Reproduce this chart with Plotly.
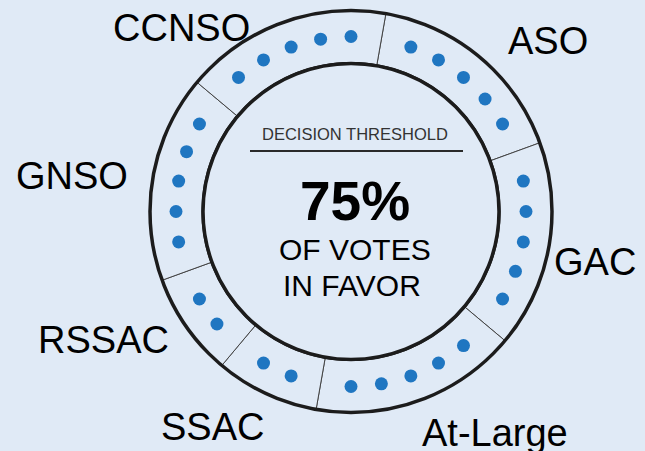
import numpy as np
import plotly.graph_objects as go

# ---- data ----
groups = ["ASO", "GAC", "At-Large", "SSAC", "RSSAC", "GNSO", "CCNSO"]
votes = [5, 5, 5, 2, 2, 5, 5]
span_deg = [60, 60, 60, 30, 30, 60, 60]   # angular size of each segment
threshold_pct = 75
center_title = "DECISION THRESHOLD"
center_sub = ["OF VOTES", "IN FAVOR"]

# ---- styling ----
BG = "#E0EAF6"
DOT = "#1F76C1"
INK = "#1c1c1c"
FONT = "Liberation Sans, Arial, Helvetica, sans-serif"

W, H = 645, 451
cx, cy, R_out, R_in = 351, 211.5, 201, 148
hole = R_in / R_out

start = 10
dot_step = 10
dot_r = (175 - R_in) / (R_out - R_in)

widths = np.array(span_deg, dtype=float)
starts = start + np.concatenate([[0], np.cumsum(widths)[:-1]])
centers = starts + widths / 2

fig = go.Figure()

# ring segments
fig.add_trace(go.Barpolar(
    theta=centers, r=[1] * len(groups), width=widths,
    marker=dict(color=BG, line=dict(color="#444444", width=1)),
    hoverinfo="text", text=groups, showlegend=False,
))

# inner circle
ring_theta = np.linspace(0, 360, 361)
fig.add_trace(go.Scatterpolar(
    theta=ring_theta, r=[0] * len(ring_theta), mode="lines",
    line=dict(color=INK, width=3.2), hoverinfo="skip", showlegend=False,
))

# vote dots
dt, dr, dtx = [], [], []
for g, n, c in zip(groups, votes, centers):
    for k in range(n):
        dt.append(c + (k - (n - 1) / 2) * dot_step)
        dr.append(dot_r)
        dtx.append(g)
fig.add_trace(go.Scatterpolar(
    theta=dt, r=dr, mode="markers", text=dtx,
    marker=dict(color=DOT, size=13, line=dict(width=0)),
    showlegend=False,
))

fig.update_layout(
    width=W, height=H,
    margin=dict(l=0, r=0, t=0, b=0),
    paper_bgcolor=BG, plot_bgcolor=BG,
    polar=dict(
        domain=dict(x=[(cx - R_out) / W, (cx + R_out) / W],
                    y=[(H - cy - R_out) / H, (H - cy + R_out) / H]),
        hole=hole,
        bgcolor=BG,
        barmode="overlay",
        radialaxis=dict(visible=False, range=[0, 1]),
        angularaxis=dict(direction="clockwise", rotation=90,
                         showticklabels=False, ticks="", showgrid=False,
                         showline=True, linecolor=INK, linewidth=3.5),
    ),
)

def px(x):
    return x / W

def py(y):
    return 1 - y / H

label_pos = {
    "ASO": (548, 41),
    "GAC": (595, 262),
    "At-Large": (495, 433),
    "SSAC": (212, 427),
    "RSSAC": (103, 340),
    "GNSO": (72, 176),
    "CCNSO": (181, 28),
}
for g in groups:
    x, y = label_pos[g]
    fig.add_annotation(x=px(x), y=py(y), xref="paper", yref="paper",
                       text=g, showarrow=False, xanchor="center", yanchor="middle",
                       font=dict(family=FONT, size=38, color="#000000"))

fig.add_annotation(x=px(355), y=py(134), xref="paper", yref="paper",
                   text=center_title, showarrow=False, xanchor="center", yanchor="middle",
                   font=dict(family=FONT, size=16.5, color="#333333"))
fig.add_shape(type="line", xref="paper", yref="paper",
              x0=px(250), x1=px(463), y0=py(151), y1=py(151),
              line=dict(color="#2a2a2a", width=2))
fig.add_annotation(x=px(355), y=py(201), xref="paper", yref="paper",
                   text=f"<b>{threshold_pct}%</b>", showarrow=False,
                   xanchor="center", yanchor="middle",
                   font=dict(family=FONT, size=55, color="#000000"))
for txt, (x, y) in zip(center_sub, [(355, 249), (352, 285)]):
    fig.add_annotation(x=px(x), y=py(y), xref="paper", yref="paper",
                       text=txt, showarrow=False, xanchor="center", yanchor="middle",
                       font=dict(family=FONT, size=30, color="#000000"))

fig.write_html(
    "out.html",
    config={"displayModeBar": False},
    post_script="document.body.style.margin='0';document.body.style.overflow='hidden';"
                "document.body.style.background='" + BG + "';",
)
